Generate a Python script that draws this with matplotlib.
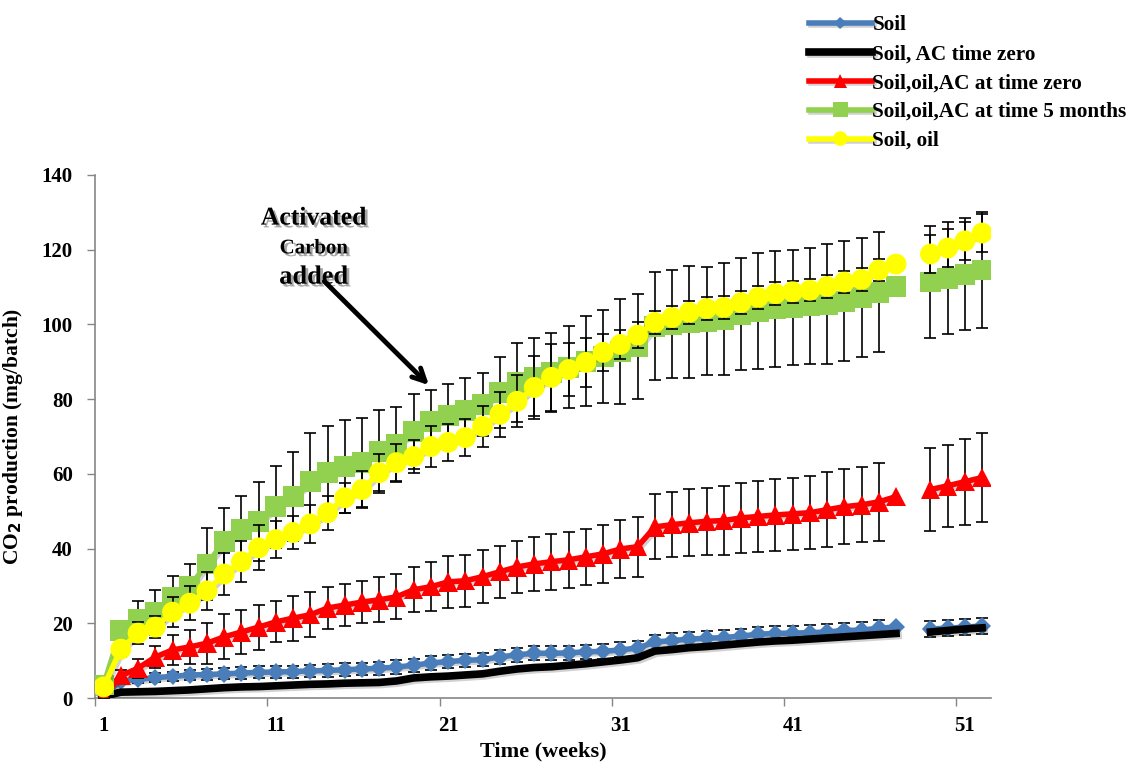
import numpy as np
import matplotlib
matplotlib.use("Agg")
import matplotlib.pyplot as plt
import matplotlib.patheffects as pe

nan = np.nan
weeks = np.arange(1, 53)

# CO2 production (mg/batch), week 48 is missing
soil = [1.0, 4.5, 5.0, 5.5, 5.8, 6.2, 6.3, 6.5, 6.7, 6.9, 7.0, 7.1, 7.3, 7.4, 7.6, 7.8, 8.0, 8.3,
        8.8, 9.4, 9.8, 10.1, 10.3, 11.0, 11.6, 12.0, 12.0, 12.1, 12.4, 12.5, 12.9, 13.4, 15.0, 15.4,
        15.8, 16.0, 16.2, 16.6, 17.1, 17.3, 17.4, 17.5, 17.7, 18.1, 18.2, 18.7, 19.0, nan,
        18.5, 18.7, 19.0, 19.3]
soil_err = [0.3, 0.8, 1.0, 1.2, 1.3, 1.4, 1.5, 1.5, 1.5, 1.6, 1.6, 1.6, 1.6, 1.7, 1.7, 1.7, 1.7, 1.8,
            1.8, 1.8, 1.8, 1.8, 1.8, 1.8, 1.9, 1.9, 1.9, 1.9, 1.9, 1.9, 2.0, 2.0, 2.0, 2.0,
            2.0, 2.0, 2.0, 2.0, 2.0, 2.0, 2.0, 2.0, 2.0, 2.0, 2.1, 2.1, nan, nan,
            2.2, 2.2, 2.2, 2.2]

soil_ac = [0.5, 1.6, 1.7, 1.8, 2.0, 2.2, 2.5, 2.8, 3.0, 3.1, 3.3, 3.5, 3.7, 3.8, 4.0, 4.1, 4.2, 4.6,
           5.4, 5.7, 5.9, 6.2, 6.5, 7.2, 7.8, 8.2, 8.4, 8.8, 9.2, 9.7, 10.2, 10.8, 12.6, 13.0,
           13.5, 13.8, 14.2, 14.6, 15.0, 15.3, 15.5, 15.8, 16.1, 16.4, 16.7, 17.0, 17.3, nan,
           17.7, 18.1, 18.5, 18.8]

oil_ac_zero = [0.3, 6.0, 8.0, 11.0, 12.9, 13.7, 14.7, 16.4, 17.7, 19.0, 20.4, 21.4, 22.3, 24.1, 24.9,
               25.7, 26.3, 27.1, 29.0, 29.8, 31.1, 31.4, 32.5, 33.8, 35.1, 35.9, 36.5, 37.0, 37.8,
               38.6, 39.9, 40.5, 45.8, 46.4, 46.9, 47.3, 47.5, 48.2, 48.6, 49.0, 49.3, 49.6, 50.4,
               51.2, 51.7, 52.5, 53.9, nan, 55.8, 56.8, 57.9, 59.0]
oil_ac_zero_err = [0.3, 1.5, 2.5, 3.0, 4.0, 4.5, 5.5, 6.0, 6.0, 6.0, 5.5, 6.0, 6.0, 5.5, 5.5, 5.5,
                   6.0, 6.0, 6.0, 6.5, 7.0, 7.0, 7.0, 7.0, 7.0, 7.2, 7.5, 7.5, 7.5, 7.7, 7.7, 8.0,
                   8.7, 8.7, 9.0, 9.0, 9.3, 9.4, 9.6, 9.7, 9.7, 9.8, 10.0, 10.0, 10.0, 10.5, nan, nan,
                   11.0, 11.0, 11.5, 12.0]

oil_ac_5m = [3.5, 18.2, 21.0, 22.8, 27.0, 29.8, 35.9, 41.8, 45.0, 47.2, 51.2, 53.9, 57.9, 60.3, 62.0,
             63.0, 66.0, 67.8, 71.3, 74.0, 75.5, 77.0, 78.5, 81.7, 84.4, 85.8, 87.1, 88.5, 90.1,
             91.4, 92.8, 94.1, 99.5, 100.0, 100.5, 100.8, 101.3, 102.7, 103.5, 104.2, 104.5, 104.9,
             105.4, 106.2, 107.2, 108.6, 110.2, nan, 111.3, 112.3, 113.4, 114.5]
oil_ac_5m_err = [1.0, 2.0, 5.0, 6.0, 5.7, 6.0, 9.6, 9.0, 9.0, 10.5, 11.0, 12.0, 13.0, 12.4, 12.5,
                 11.8, 11.0, 10.0, 10.0, 8.5, 8.5, 8.6, 8.5, 9.5, 10.6, 10.4, 10.5, 11.0, 12.0, 12.5,
                 14.0, 14.0, 14.5, 14.5, 15.0, 14.5, 15.0, 15.0, 15.5, 15.5, 15.5, 15.5, 16.0, 16.0,
                 16.0, 16.0, nan, nan, 15.0, 15.0, 15.0, 15.5]

soil_oil = [3.0, 13.1, 17.4, 19.0, 23.0, 25.4, 28.7, 33.2, 36.5, 40.2, 42.4, 44.3, 46.6, 49.6, 53.6,
            55.8, 60.3, 63.0, 64.6, 67.3, 68.4, 69.7, 72.7, 75.9, 79.4, 83.1, 85.8, 87.9, 89.8,
            92.5, 94.6, 97.1, 100.5, 101.8, 103.2, 104.2, 104.5, 105.8, 107.2, 108.2, 108.7,
            109.1, 110.1, 111.3, 112.0, 114.5, 116.1, nan, 118.8, 120.4, 122.3, 124.4]
soil_oil_err = [0.5, 2.0, 3.0, 3.0, 4.0, 4.5, 5.0, 5.5, 5.5, 6.0, 5.0, 4.5, 5.0, 4.5, 4.0, 5.0, 5.0,
                5.0, 4.5, 5.5, 5.0, 5.0, 5.5, 6.0, 7.0, 8.5, 9.0, 7.0, 6.5, 5.0, 4.0, 3.5, 3.0,
                3.0, 3.0, 3.0, 3.0, 3.0, 3.0, 3.0, 3.0, 3.0, 3.0, 3.0, 3.0, 3.0, nan, nan,
                5.0, 5.0, 5.0, 5.0]

labels = ["Soil", "Soil, AC time zero", "Soil,oil,AC at time zero",
          "Soil,oil,AC at time 5 months", "Soil, oil"]

plt.rcParams["font.family"] = ["Liberation Serif", "DejaVu Serif"]
plt.rcParams["font.weight"] = "bold"

fig = plt.figure(figsize=(11.31, 7.63), dpi=100)
ax = fig.add_axes([0.084, 0.085, 0.792, 0.686])

shadow = [pe.SimpleLineShadow(offset=(1.5, -1.5), alpha=0.18), pe.Normal()]

series = [
    (soil, soil_err, "#4a7ebb", "D", 9, 4),
    (soil_ac, None, "black", "None", 0, 5.5),
    (oil_ac_zero, oil_ac_zero_err, "red", "^", 14, 4),
    (oil_ac_5m, oil_ac_5m_err, "#92d050", "s", 15, 4),
    (soil_oil, soil_oil_err, "yellow", "o", 15, 4),
]

handles = []
for i, (vals, err, col, mk, ms, lw) in enumerate(series):
    z = 2 + 2 * i
    if err is not None:
        ax.errorbar(weeks, vals, yerr=err, fmt="none", ecolor="black",
                    elinewidth=1.2, capsize=4.5, capthick=1.2, zorder=z)
    line, = ax.plot(weeks, vals, color=col, marker=mk, markersize=ms,
                    linewidth=lw, markeredgewidth=0, zorder=z + 1,
                    path_effects=shadow, label=labels[i])
    handles.append(line)

ax.set_xlim(0.5, 52.5)
ax.set_ylim(0, 140)
ax.set_yticks(np.arange(0, 141, 20))
ax.set_xticks([1, 11, 21, 31, 41, 51])
ax.set_xticks([0.5, 10.5, 20.5, 30.5, 40.5, 50.5], minor=True)
ax.tick_params(axis="x", which="major", length=0, pad=13, labelsize=15)
ax.tick_params(axis="x", which="minor", length=6, color="#868686", width=1)
ax.tick_params(axis="y", length=6, color="#868686", width=1, labelsize=15, pad=10)
for side in ["top", "right"]:
    ax.spines[side].set_visible(False)
for side in ["left", "bottom"]:
    ax.spines[side].set_color("#868686")
    ax.spines[side].set_linewidth(1.2)

ax.set_ylabel("CO$_2$ production (mg/batch)", fontsize=15.5, fontweight="bold", labelpad=12)
ax.set_xlabel("Time (weeks)", fontsize=16, fontweight="bold", labelpad=4)

# annotation
txt_fx = [pe.SimplePatchShadow(offset=(2, -2), alpha=0.35), pe.Normal()]
ax.text(13.2, 128.4, "Activated", ha="center", va="center", fontsize=18.5,
        fontweight="bold", path_effects=txt_fx)
ax.text(13.2, 120.3, "Carbon", ha="center", va="center", fontsize=15,
        fontweight="bold", path_effects=txt_fx)
ax.text(13.2, 112.6, "added", ha="center", va="center", fontsize=19,
        fontweight="bold", path_effects=txt_fx)
ax.annotate("", xy=(20.0, 83.2), xytext=(13.7, 112.0),
            arrowprops=dict(arrowstyle="->,head_length=0.9,head_width=0.45",
                            lw=3.5, color="black"))

leg = fig.legend(handles=handles, loc="upper left", bbox_to_anchor=(0.698, 1.005),
                 frameon=False, fontsize=15.3, handlelength=3.0, handletextpad=0.0,
                 labelspacing=0.42, markerscale=0.7)
for t in leg.get_texts():
    t.set_fontweight("bold")

fig.savefig("out.png", dpi=100)
